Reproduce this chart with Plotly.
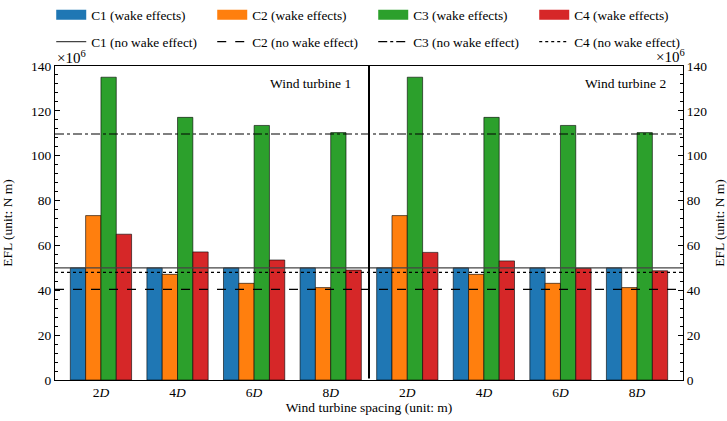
import plotly.graph_objects as go

# ---------------- data ----------------
spacings = ["2<i>D</i>", "4<i>D</i>", "6<i>D</i>", "8<i>D</i>"]
turbines = ["Wind turbine 1", "Wind turbine 2"]
case_names = ["C1", "C2", "C3", "C4"]
colors = ["#1f77b4", "#ff7f0e", "#2ca02c", "#d62728"]

# EFL values (x10^6 N m): turbine 1 (2D..8D) followed by turbine 2 (2D..8D)
c1_wake = [50.0, 50.0, 50.0, 50.0, 50.0, 50.0, 50.0, 50.0]
c2_wake = [73.3, 47.1, 43.1, 41.2, 73.3, 47.1, 43.1, 41.2]
c3_wake = [135.0, 117.1, 113.5, 110.3, 135.0, 117.1, 113.5, 110.3]
c4_wake = [65.0, 57.1, 53.5, 49.0, 56.9, 53.1, 49.8, 48.7]
wake_values = [c1_wake, c2_wake, c3_wake, c4_wake]

# reference EFL without wake effect
no_wake = [50.0, 40.4, 109.7, 48.0]
no_wake_dash = ["solid", "dash", "dashdot", "dot"]
no_wake_color = ["#444444", "black", "black", "black"]

y_ticks = [0, 20, 40, 60, 80, 100, 120, 140]

# --------------------------------------
FONT = "Liberation Serif, Times New Roman, serif"
n_groups = len(spacings) * len(turbines)
xpos = list(range(n_groups))
ticktext = spacings * len(turbines)
ENTRY_W = 116
LEG_FONT = 13.3

fig = go.Figure()
for i, (name, vals, col) in enumerate(zip(case_names, wake_values, colors)):
    fig.add_trace(go.Bar(
        x=xpos, y=vals, name=f"{name} (wake effects)",
        marker=dict(color=col, line=dict(color="rgba(0,0,0,0.75)", width=0.8)),
        showlegend=False,
    ))
# legend proxies for the bars (wide colour patches)
for i, (name, col) in enumerate(zip(case_names, colors)):
    fig.add_trace(go.Scatter(
        x=[None], y=[None], mode="lines", name=f"{name} (wake effects)",
        line=dict(color=col, width=12), legend="legend",
        legendwidth=ENTRY_W if i < len(case_names) - 1 else 110, hoverinfo="skip",
    ))

# invisible trace to anchor right axis
fig.add_trace(go.Scatter(x=[xpos[0]], y=[y_ticks[0]], yaxis="y2", mode="markers",
                         marker=dict(opacity=0), showlegend=False, hoverinfo="skip"))

shapes = []
for i, (name, val, dash, col) in enumerate(zip(case_names, no_wake, no_wake_dash, no_wake_color)):
    shapes.append(dict(
        type="line", xref="x domain", x0=0, x1=1, yref="y", y0=val, y1=val,
        line=dict(color=col, width=1.3 if dash == "solid" else 1.1, dash=dash),
        layer="above", showlegend=True, name=f"{name} (no wake effect)", legend="legend2",
        legendwidth=ENTRY_W if i < len(case_names) - 1 else 120,
    ))
# separator between the two turbines
sep = len(spacings) - 0.5
shapes.append(dict(type="line", xref="x", x0=sep, x1=sep, yref="y domain", y0=0.005, y1=1,
                   line=dict(color="black", width=2), layer="above"))

annotations = [
    dict(text=turbines[0], xref="paper", x=0.4745, yref="paper", y=0.945,
         xanchor="right", yanchor="middle", showarrow=False, font=dict(size=13.5)),
    dict(text=turbines[1], xref="paper", x=0.976, yref="paper", y=0.945,
         xanchor="right", yanchor="middle", showarrow=False, font=dict(size=13.5)),
    dict(text="×10<sup>6</sup>", xref="paper", x=0, yref="paper", y=1.0,
         xanchor="left", yanchor="bottom", yshift=-2, showarrow=False, font=dict(size=15)),
    dict(text="×10<sup>6</sup>", xref="paper", x=1.0, yref="paper", y=1.0,
         xanchor="right", yanchor="bottom", yshift=-1, xshift=4, showarrow=False,
         font=dict(size=15)),
]

yaxis_common = dict(
    range=[y_ticks[0], y_ticks[-1]], tickvals=y_ticks, ticks="inside", ticklen=5,
    tickcolor="black", linecolor="black", linewidth=1.2, showgrid=False, zeroline=False,
    minor=dict(ticks="inside", ticklen=3, dtick=4, tickcolor="black"),
    tickfont=dict(size=13.5),
)

leg_common = dict(orientation="h", xref="paper", x=-0.006, xanchor="left",
                  yref="paper", yanchor="middle", entrywidth=ENTRY_W,
                  font=dict(size=LEG_FONT), bgcolor="rgba(0,0,0,0)")

fig.update_layout(
    width=727, height=421,
    margin=dict(l=55, r=44, t=66, b=41, autoexpand=False),
    paper_bgcolor="white", plot_bgcolor="white",
    font=dict(family=FONT, color="black", size=13),
    barmode="group", bargap=0.2, bargroupgap=0,
    xaxis=dict(
        range=[xpos[0] - 0.6, xpos[-1] + 0.6], tickvals=xpos, ticktext=ticktext,
        ticks="", showline=True, linecolor="black", linewidth=1.2, mirror=True,
        showgrid=False, zeroline=False, tickfont=dict(size=13.5),
        title=dict(text="Wind turbine spacing (unit: m)", font=dict(size=13.5), standoff=2),
    ),
    yaxis=dict(**yaxis_common, side="left", mirror=False, showline=True,
               title=dict(text="EFL (unit: N m)", font=dict(size=13.5))),
    yaxis2=dict(**yaxis_common, side="right", overlaying="y", matches="y", showline=True,
                title=dict(text="EFL (unit: N m)", font=dict(size=13.5))),
    shapes=shapes,
    annotations=annotations,
    legend=dict(**leg_common, y=(380 - 15) / 314, traceorder="normal"),
    legend2=dict(**leg_common, y=(380 - 42) / 314),
)

fig.write_html("out.html", config={"displayModeBar": False},
               post_script="document.body.style.margin='0px';")
